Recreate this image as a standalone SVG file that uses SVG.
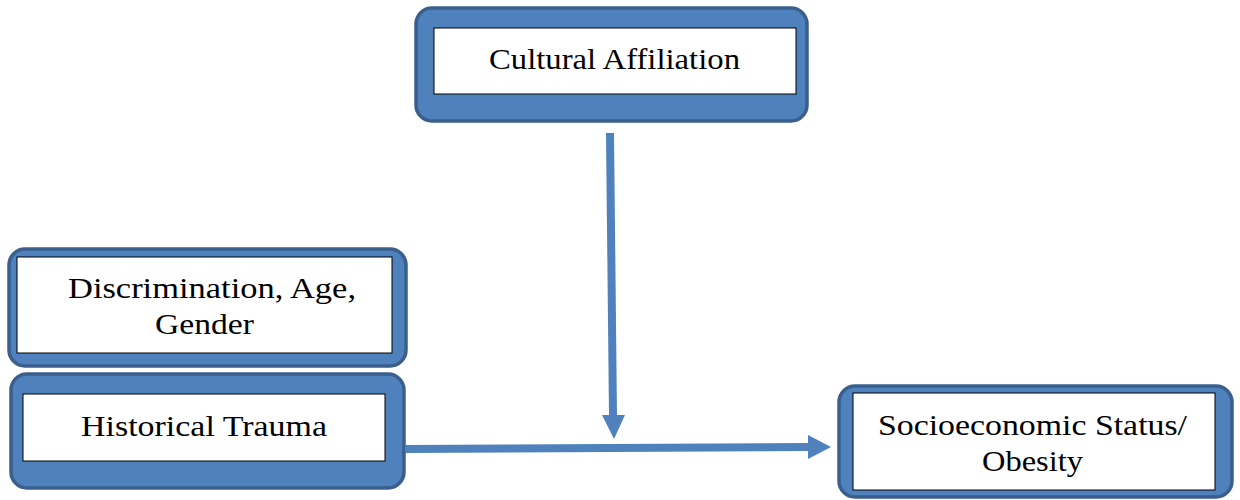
<svg xmlns="http://www.w3.org/2000/svg" width="1240" height="500" viewBox="0 0 1240 500">
<style>
.outer{fill:#4F81BD;stroke:#3A5F8C;stroke-width:3.5}
.inner{fill:#FFFFFF;stroke:#000000;stroke-width:1}
.lbl{font-family:"Liberation Serif","DejaVu Serif",serif;font-size:30px;fill:#000;text-anchor:middle}
.conn{stroke:#4F81BD;stroke-width:8;fill:none}
.head{fill:#4F81BD}
</style>
<rect width="1240" height="500" fill="#FFFFFF"/>
<g id="cultural-affiliation">
<rect class="outer" x="416" y="8" width="391" height="113" rx="16"/>
<rect class="inner" x="434" y="28" width="362" height="66"/>
<text class="lbl" x="614.5" y="69" textLength="251" lengthAdjust="spacingAndGlyphs">Cultural Affiliation</text>
</g>
<g id="discrimination">
<rect class="outer" x="9" y="249" width="397" height="117" rx="16"/>
<rect class="inner" x="17" y="257" width="375" height="96"/>
<text class="lbl" x="212" y="298" textLength="288" lengthAdjust="spacingAndGlyphs">Discrimination, Age,</text>
<text class="lbl" x="204.5" y="334" textLength="99" lengthAdjust="spacingAndGlyphs">Gender</text>
</g>
<g id="historical-trauma">
<rect class="outer" x="11" y="374" width="393" height="114" rx="16"/>
<rect class="inner" x="23" y="394" width="362" height="67"/>
<text class="lbl" x="204" y="436" textLength="246" lengthAdjust="spacingAndGlyphs">Historical Trauma</text>
</g>
<g id="ses-obesity">
<rect class="outer" x="839" y="386" width="393" height="111" rx="16"/>
<rect class="inner" x="853" y="393" width="362" height="97"/>
<text class="lbl" x="1032.5" y="435" textLength="309" lengthAdjust="spacingAndGlyphs">Socioeconomic Status/</text>
<text class="lbl" x="1032.5" y="471" textLength="101" lengthAdjust="spacingAndGlyphs">Obesity</text>
</g>
<g id="connectors">
<line class="conn" x1="610" y1="133" x2="613" y2="416"/>
<polygon class="head" points="602,415 625,415 614,439"/>
<line class="conn" x1="405" y1="449" x2="809" y2="447"/>
<polygon class="head" points="808,435 808,459 831,447"/>
</g>
</svg>
